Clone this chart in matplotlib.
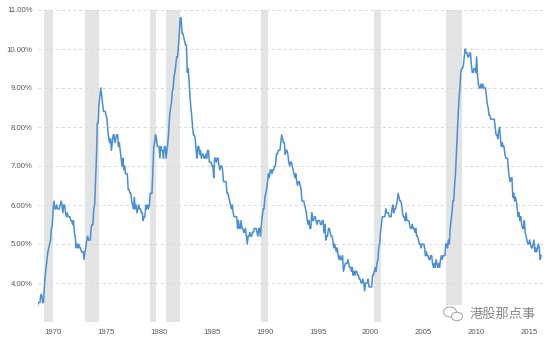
import matplotlib
matplotlib.use("Agg")
import matplotlib.pyplot as plt
from matplotlib.patches import Ellipse, Rectangle, Circle
from matplotlib.transforms import ScaledTranslation

# monthly unemployment rate (%), starting May 1969
start_year = 1969
start_month = 5

unemployment_rate = [
    3.4, 3.5, 3.5, 3.5, 3.7, 3.7, 3.5, 3.5,                      # 1969
    3.9, 4.2, 4.4, 4.6, 4.8, 4.9, 5.0, 5.1, 5.4, 5.5, 5.9, 6.1,  # 1970
    5.9, 5.9, 6.0, 5.9, 5.9, 5.9, 6.0, 6.1, 6.0, 5.8, 6.0, 6.0,  # 1971
    5.8, 5.7, 5.8, 5.7, 5.7, 5.7, 5.6, 5.6, 5.5, 5.6, 5.3, 5.2,  # 1972
    4.9, 5.0, 4.9, 5.0, 4.9, 4.9, 4.8, 4.8, 4.8, 4.6, 4.8, 4.9,  # 1973
    5.1, 5.2, 5.1, 5.1, 5.1, 5.4, 5.5, 5.5, 5.9, 6.0, 6.6, 7.2,  # 1974
    8.1, 8.1, 8.6, 8.8, 9.0, 8.8, 8.6, 8.4, 8.4, 8.4, 8.3, 8.2,  # 1975
    7.9, 7.7, 7.6, 7.7, 7.4, 7.6, 7.8, 7.8, 7.6, 7.7, 7.8, 7.8,  # 1976
    7.5, 7.6, 7.4, 7.2, 7.0, 7.2, 6.9, 7.0, 6.8, 6.8, 6.8, 6.4,  # 1977
    6.4, 6.3, 6.3, 6.1, 6.0, 5.9, 6.2, 5.9, 6.0, 5.8, 5.9, 6.0,  # 1978
    5.9, 5.9, 5.8, 5.8, 5.6, 5.7, 5.7, 6.0, 5.9, 6.0, 5.9, 6.0,  # 1979
    6.3, 6.3, 6.3, 6.9, 7.5, 7.6, 7.8, 7.7, 7.5, 7.5, 7.5, 7.2,  # 1980
    7.5, 7.4, 7.4, 7.2, 7.5, 7.5, 7.2, 7.4, 7.6, 7.9, 8.3, 8.5,  # 1981
    8.6, 8.9, 9.0, 9.3, 9.4, 9.6, 9.8, 9.8, 10.1, 10.4, 10.8, 10.8,  # 1982
    10.4, 10.4, 10.3, 10.2, 10.1, 10.1, 9.4, 9.5, 9.2, 8.8, 8.5, 8.3,  # 1983
    8.0, 7.8, 7.8, 7.7, 7.4, 7.2, 7.5, 7.5, 7.3, 7.4, 7.2, 7.3,  # 1984
    7.3, 7.2, 7.2, 7.3, 7.2, 7.4, 7.4, 7.1, 7.1, 7.1, 7.0, 7.0,  # 1985
    6.7, 7.2, 7.2, 7.1, 7.2, 7.2, 7.0, 6.9, 7.0, 7.0, 6.9, 6.6,  # 1986
    6.6, 6.6, 6.6, 6.3, 6.3, 6.2, 6.1, 6.0, 5.9, 6.0, 5.8, 5.7,  # 1987
    5.7, 5.7, 5.7, 5.4, 5.6, 5.4, 5.4, 5.6, 5.4, 5.4, 5.3, 5.3,  # 1988
    5.4, 5.2, 5.0, 5.2, 5.2, 5.3, 5.2, 5.2, 5.3, 5.3, 5.4, 5.4,  # 1989
    5.4, 5.3, 5.2, 5.4, 5.4, 5.2, 5.5, 5.7, 5.9, 5.9, 6.2, 6.3,  # 1990
    6.4, 6.6, 6.8, 6.7, 6.9, 6.9, 6.8, 6.9, 6.9, 7.0, 7.0, 7.3,  # 1991
    7.3, 7.4, 7.4, 7.4, 7.6, 7.8, 7.7, 7.6, 7.6, 7.3, 7.4, 7.4,  # 1992
    7.3, 7.1, 7.0, 7.1, 7.1, 7.0, 6.9, 6.8, 6.7, 6.8, 6.6, 6.5,  # 1993
    6.6, 6.6, 6.5, 6.4, 6.1, 6.1, 6.1, 6.0, 5.9, 5.8, 5.6, 5.5,  # 1994
    5.6, 5.4, 5.4, 5.8, 5.6, 5.6, 5.7, 5.7, 5.6, 5.5, 5.6, 5.6,  # 1995
    5.6, 5.5, 5.5, 5.6, 5.6, 5.3, 5.5, 5.1, 5.2, 5.2, 5.4, 5.4,  # 1996
    5.3, 5.2, 5.2, 5.1, 4.9, 5.0, 4.9, 4.8, 4.9, 4.7, 4.6, 4.7,  # 1997
    4.6, 4.6, 4.7, 4.3, 4.4, 4.5, 4.5, 4.5, 4.6, 4.5, 4.4, 4.4,  # 1998
    4.3, 4.4, 4.2, 4.3, 4.2, 4.3, 4.3, 4.2, 4.2, 4.1, 4.1, 4.0,  # 1999
    4.0, 4.1, 4.0, 3.8, 4.0, 4.0, 4.0, 4.1, 3.9, 3.9, 3.9, 3.9,  # 2000
    4.2, 4.2, 4.3, 4.4, 4.3, 4.5, 4.6, 4.9, 5.0, 5.3, 5.5, 5.7,  # 2001
    5.7, 5.7, 5.7, 5.9, 5.8, 5.8, 5.8, 5.7, 5.7, 5.7, 5.9, 6.0,  # 2002
    5.8, 5.9, 5.9, 6.0, 6.1, 6.3, 6.2, 6.1, 6.1, 6.0, 5.8, 5.7,  # 2003
    5.7, 5.6, 5.8, 5.6, 5.6, 5.6, 5.5, 5.4, 5.4, 5.5, 5.4, 5.4,  # 2004
    5.3, 5.4, 5.2, 5.2, 5.1, 5.0, 5.0, 4.9, 5.0, 5.0, 5.0, 4.9,  # 2005
    4.7, 4.8, 4.7, 4.7, 4.6, 4.6, 4.7, 4.7, 4.5, 4.4, 4.5, 4.4,  # 2006
    4.6, 4.5, 4.4, 4.5, 4.4, 4.6, 4.7, 4.6, 4.7, 4.7, 4.7, 5.0,  # 2007
    5.0, 4.9, 5.1, 5.0, 5.4, 5.6, 5.8, 6.1, 6.1, 6.5, 6.8, 7.3,  # 2008
    7.8, 8.3, 8.7, 9.0, 9.4, 9.5, 9.5, 9.6, 9.8, 10.0, 9.9, 9.9,  # 2009
    9.8, 9.8, 9.9, 9.9, 9.6, 9.4, 9.4, 9.5, 9.5, 9.4, 9.8, 9.3,  # 2010
    9.1, 9.0, 9.0, 9.1, 9.0, 9.1, 9.0, 9.0, 9.0, 8.8, 8.6, 8.5,  # 2011
    8.3, 8.3, 8.2, 8.2, 8.2, 8.2, 8.2, 8.0, 7.8, 7.8, 7.7, 7.9,  # 2012
    8.0, 7.7, 7.5, 7.6, 7.5, 7.5, 7.3, 7.2, 7.2, 7.2, 6.9, 6.7,  # 2013
    6.6, 6.7, 6.7, 6.2, 6.3, 6.1, 6.2, 6.1, 5.9, 5.7, 5.8, 5.6,  # 2014
    5.7, 5.5, 5.4, 5.4, 5.6, 5.3, 5.2, 5.1, 5.0, 5.0, 5.1, 5.0,  # 2015
    4.9, 4.9, 5.0, 5.1, 4.8, 4.9, 4.8, 4.9, 5.0, 4.9, 4.6, 4.7,  # 2016
]

# recession periods (decimal years)
recession_start = [1969.92, 1973.83, 1980.0, 1981.5, 1990.5, 2001.17, 2007.92]
recession_end = [1970.83, 1975.17, 1980.5, 1982.83, 1991.17, 2001.83, 2009.42]

year_ticks = [1970, 1975, 1980, 1985, 1990, 1995, 2000, 2005, 2010, 2015]
rate_ticks = [3, 4, 5, 6, 7, 8, 9, 10, 11]

plt.rcParams['font.family'] = ['Liberation Sans', 'DejaVu Sans']

W, H = 554, 339
fig = plt.figure(figsize=(W / 100, H / 100), dpi=100)
ax = fig.add_axes([38 / W, 1 - 322 / H, (543 - 38) / W, (322 - 10) / H])

months = [start_year + (start_month - 1 + i) / 12 for i in range(len(unemployment_rate))]

for s, e in zip(recession_start, recession_end):
    ax.axvspan(s, e, color='#e4e4e4', lw=0, zorder=0)

ax.plot(months, unemployment_rate, color='#4a8fd6', lw=1.1, zorder=3)

ax.set_xlim(1969.4, 2017.1)
ax.set_ylim(3, 11)

ax.set_yticks(rate_ticks)
ax.set_yticklabels(['' if v == 3 else f'{v:.2f}%' for v in rate_ticks])
ax.set_xticks(year_ticks)
ax.set_xticklabels([str(y) for y in year_ticks])
for lbl in ax.get_xticklabels():
    lbl.set_ha('left')
    lbl.set_transform(lbl.get_transform() + ScaledTranslation(2 / 100, 0, fig.dpi_scale_trans))

ax.tick_params(axis='both', length=0, labelsize=5.6, labelcolor='#5a5a5a')
ax.tick_params(axis='x', pad=5)
ax.tick_params(axis='y', pad=4)
ax.yaxis.grid(True, linestyle=(0, (3, 3)), color='#d8d8d8', lw=0.7, zorder=1)
ax.set_axisbelow(True)
for sp in ax.spines.values():
    sp.set_visible(False)

# watermark
fig.patches.append(Rectangle((438 / W, 1 - 324 / H), 116 / W, 19 / H, transform=fig.transFigure,
                             facecolor='white', edgecolor='none', zorder=5))
fig.patches.append(Ellipse((450 / W, 1 - 312 / H), 13 / W, 10 / H, transform=fig.transFigure,
                           facecolor='white', edgecolor='#a0a0a0', lw=0.7, zorder=6))
fig.patches.append(Ellipse((457 / W, 1 - 316.5 / H), 11 / W, 8.5 / H, transform=fig.transFigure,
                           facecolor='white', edgecolor='#a0a0a0', lw=0.7, zorder=7))
fig.text(470 / W, 1 - 314 / H, '港股那点事', fontsize=9.5, color='#8a8a8a', ha='left', va='center',
         family=['Noto Sans CJK SC', 'DejaVu Sans'], zorder=8)

fig.savefig('out.png', dpi=100)
